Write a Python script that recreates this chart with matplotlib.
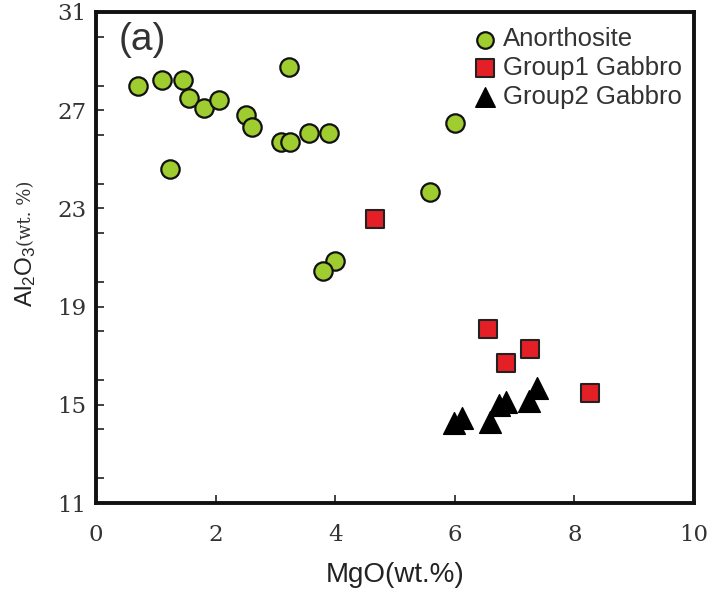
import matplotlib
matplotlib.use("Agg")
import matplotlib.pyplot as plt
from matplotlib.ticker import MultipleLocator

plt.rcParams["mathtext.fontset"] = "custom"
plt.rcParams["mathtext.rm"] = "Liberation Sans"
plt.rcParams["mathtext.it"] = "Liberation Sans:italic"
plt.rcParams["mathtext.bf"] = "Liberation Sans:bold"

# MgO and Al2O3 contents (wt.%)
anor_mgo = [0.71, 1.10, 1.46, 1.56, 1.80, 2.05, 2.50, 2.61, 3.09, 3.24, 3.57, 3.89,
            3.23, 1.24, 6.01, 5.58, 3.99, 3.79]
anor_al2o3 = [27.99, 28.23, 28.23, 27.51, 27.10, 27.42, 26.80, 26.30, 25.72, 25.72,
              26.06, 26.06, 28.77, 24.60, 26.47, 23.68, 20.86, 20.46]

g1_mgo = [4.66, 6.56, 7.25, 6.86, 8.26]
g1_al2o3 = [22.58, 18.09, 17.26, 16.69, 15.47]

g2_mgo = [5.99, 6.12, 6.59, 6.74, 6.85, 7.24, 7.37]
g2_al2o3 = [14.25, 14.45, 14.31, 14.99, 15.13, 15.17, 15.67]

x_ticks = [0, 2, 4, 6, 8, 10]
y_ticks = [11, 15, 19, 23, 27, 31]

W, H = 714, 595
fig = plt.figure(figsize=(W / 100, H / 100), dpi=100)
ax = fig.add_axes([96 / W, 1 - 503 / H, 598 / W, 491 / H])

ax.scatter(anor_mgo, anor_al2o3, s=175, marker="o", facecolor="#9fcc2e",
           edgecolor="#111111", linewidth=1.6, label="Anorthosite", zorder=3)
ax.scatter(g1_mgo, g1_al2o3, s=185, marker="s", facecolor="#e41f26",
           edgecolor="#222222", linewidth=1.5, label="Group1 Gabbro", zorder=3)
ax.scatter(g2_mgo, g2_al2o3, s=245, marker="^", facecolor="black",
           edgecolor="black", linewidth=1.0, label="Group2 Gabbro", zorder=3)

ax.set_xlim(0, 10)
ax.set_ylim(11, 31)
ax.set_xticks(x_ticks)
ax.set_yticks(y_ticks)
ax.yaxis.set_minor_locator(MultipleLocator(2))

serif = {"family": "DejaVu Serif", "size": 16.5}
ax.set_xticklabels([str(v) for v in x_ticks], fontdict=serif, color="#333333")
ax.set_yticklabels([str(v) for v in y_ticks], fontdict=serif, color="#333333")
ax.tick_params(which="both", direction="in", top=False, right=False,
               width=1.3, color="#333333", length=6)
ax.tick_params(axis="x", pad=15)
ax.tick_params(axis="y", pad=7)

for sp in ax.spines.values():
    sp.set_linewidth(2.8)
    sp.set_color("#111111")

ax.set_xlabel("MgO(wt.%)", fontsize=20, family="Liberation Sans", color="#222222",
              labelpad=12)

# y-axis title: oxide in sans, unit in a smaller serif face
fig.text(32 / W, 1 - 307 / H, r"Al$_\mathrm{2}$O$_\mathrm{3}$", rotation=90,
         rotation_mode="anchor", ha="left", va="baseline", fontsize=17.5,
         family="Liberation Sans", color="#222222")
fig.text(31 / W, 1 - 246 / H, "(wt. %)", rotation=90, rotation_mode="anchor",
         ha="left", va="baseline", fontsize=13, family="DejaVu Serif",
         color="#333333")

ax.text(0.038, 0.980, "(a)", transform=ax.transAxes, fontsize=28,
        family="Liberation Sans", va="top", ha="left", color="#333333")

leg = ax.legend(loc="upper right", frameon=False,
                prop={"family": "Liberation Sans", "size": 18.5},
                handlelength=1.0, handletextpad=0.2, borderaxespad=0.4,
                labelspacing=0.18, markerscale=0.9, borderpad=0.2,
                bbox_to_anchor=(1.005, 1.0))
for t in leg.get_texts():
    t.set_color("#333333")

fig.savefig("out.png", dpi=100)
